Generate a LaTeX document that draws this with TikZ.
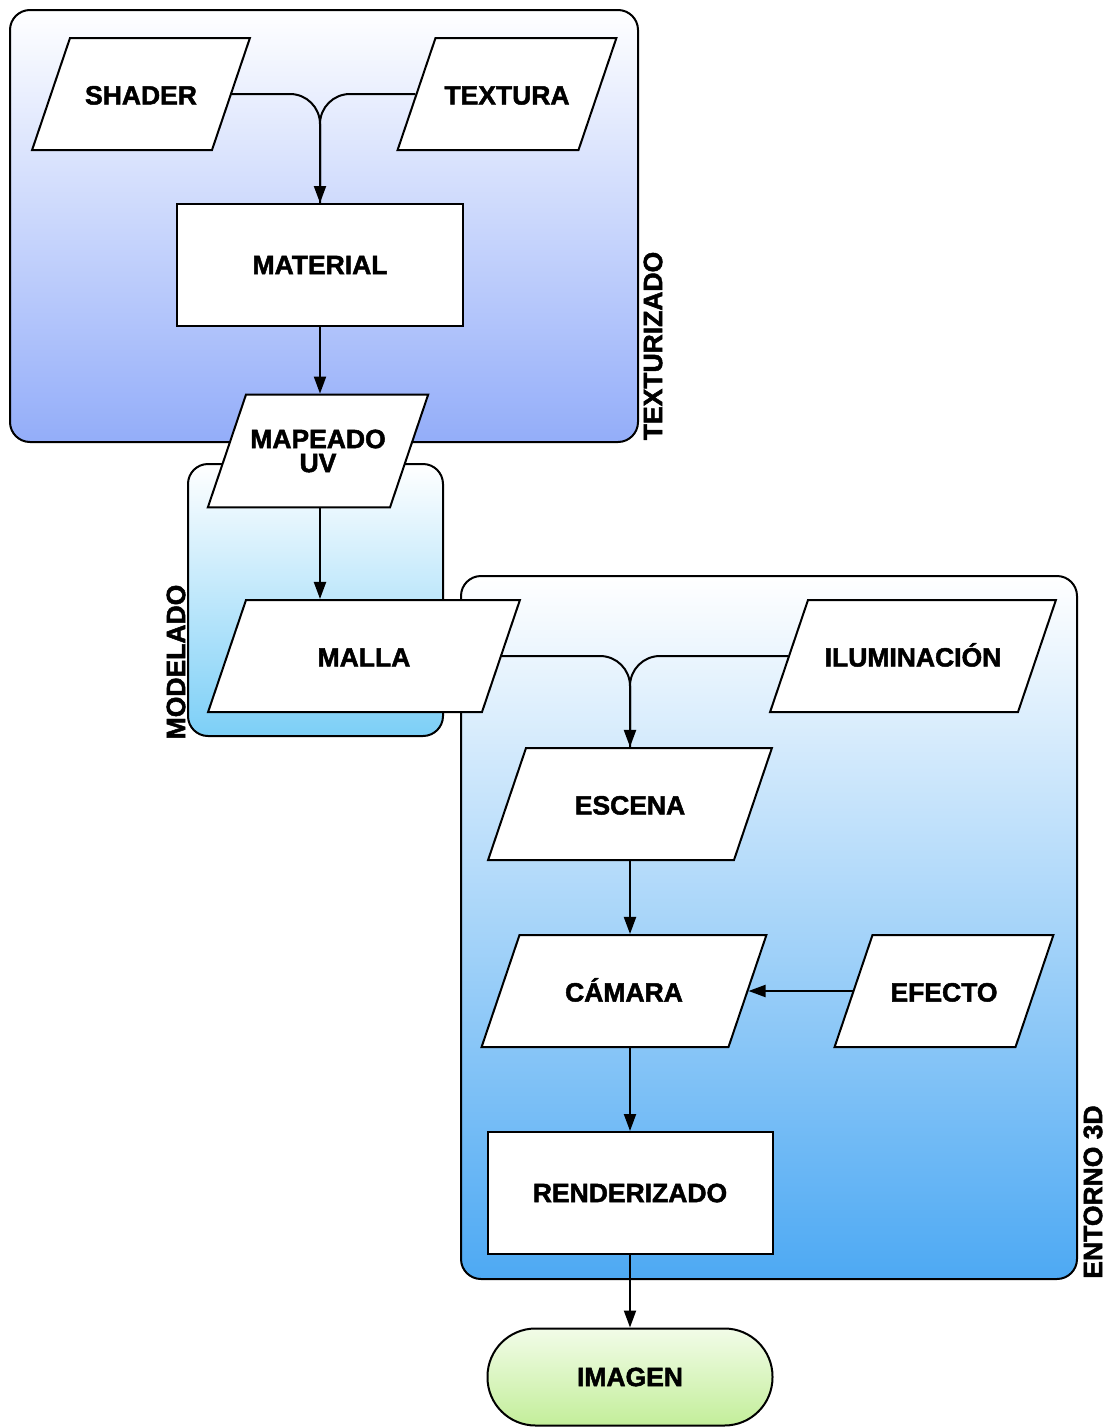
\documentclass[tikz,border=0pt]{standalone}
\usepackage{fontspec}
\setmainfont{Liberation Sans}[BoldFeatures={FakeBold=1.8}]
\usetikzlibrary{shapes.geometric,arrows.meta}
\definecolor{texblue}{HTML}{93ADF9}
\definecolor{modblue}{HTML}{7CCFF7}
\definecolor{entblue}{HTML}{4DA9F3}
\definecolor{imgtop}{HTML}{F2FCE8}
\definecolor{imgbot}{HTML}{C3EE9A}
\begin{document}
\begin{tikzpicture}[x=1pt,y=-1pt,
  every node/.style={font=\fontsize{26.5}{24}\selectfont\bfseries},
  container/.style={draw=black,line width=2pt,rounded corners=20pt},
  iobox/.style={trapezium,trapezium left angle=71.3,trapezium right angle=108.7,
    draw=black,fill=white,line width=2pt,inner xsep=0pt,inner ysep=44pt,
    text height=22.5pt,text depth=1.5pt,align=center,text width=#1},
  iotwo/.style={trapezium,trapezium left angle=71.3,trapezium right angle=108.7,
    draw=black,fill=white,line width=2pt,inner xsep=0pt,inner ysep=35pt,
    align=center,text width=#1},
  procbox/.style={rectangle,draw=black,fill=white,line width=2pt,minimum height=122pt},
  termbox/.style={rectangle,rounded corners=48pt,draw=black,line width=2pt,
    top color=imgtop,bottom color=imgbot,minimum width=285pt,minimum height=97pt},
  grouplabel/.style={rotate=90},
  flow/.style={line width=2pt,-{Triangle[length=17pt,width=12pt]}},
  mergeline/.style={line width=2pt,rounded corners=30pt}]
\useasboundingbox (0,0) rectangle (1109,1427);
% containers
\draw[container,top color=white,bottom color=texblue] (10,10) rectangle (638,442);
\draw[container,top color=white,bottom color=modblue] (188,464) rectangle (443,736);
\draw[container,top color=white,bottom color=entblue] (461,576) rectangle (1077,1279);
% group labels
\node[grouplabel] (ltex) at (653,346) {TEXTURIZADO};
\node[grouplabel] (lmod) at (176,662) {MODELADO};
\node[grouplabel] (lent) at (1093,1192) {ENTORNO 3D};
% nodes
\node[iobox=142pt] (shader) at (141,94) {SHADER};
\node[iobox=143pt] (textura) at (507,94) {TEXTURA};
\node[procbox,minimum width=286pt] (material) at (320,265) {MATERIAL};
\node[iotwo=144pt] (mapeado) at (318,451) {MAPEADO\\UV};
\node[iobox=236pt] (malla) at (364,656) {MALLA};
\node[iobox=210pt] (ilum) at (913,656) {ILUMINACIÓN};
\node[iobox=208pt] (escena) at (630,804) {ESCENA};
\node[iobox=209pt] (camara) at (624,991) {CÁMARA};
\node[iobox=143pt] (efecto) at (944,991) {EFECTO};
\node[procbox,minimum width=285pt] (render) at (630,1193) {RENDERIZADO};
\node[termbox] (imagen) at (630,1377) {IMAGEN};
% connectors
\draw[mergeline] (textura.west) -| (material.north);
\draw[mergeline,flow] (shader.east) -| (material.north);
\draw[flow] (material.south) -- (material.south |- mapeado.north);
\draw[flow] (mapeado.south -| material.south) -- (malla.north -| material.south);
\draw[mergeline] (ilum.west) -| (escena.north);
\draw[mergeline,flow] (malla.east) -| (escena.north);
\draw[flow] (escena.south) -- (escena.south |- camara.north);
\draw[flow] (efecto.west) -- (camara.east);
\draw[flow] (camara.south -| escena.south) -- (render.north);
\draw[flow] (render.south) -- (imagen.north);
\end{tikzpicture}
\end{document}
